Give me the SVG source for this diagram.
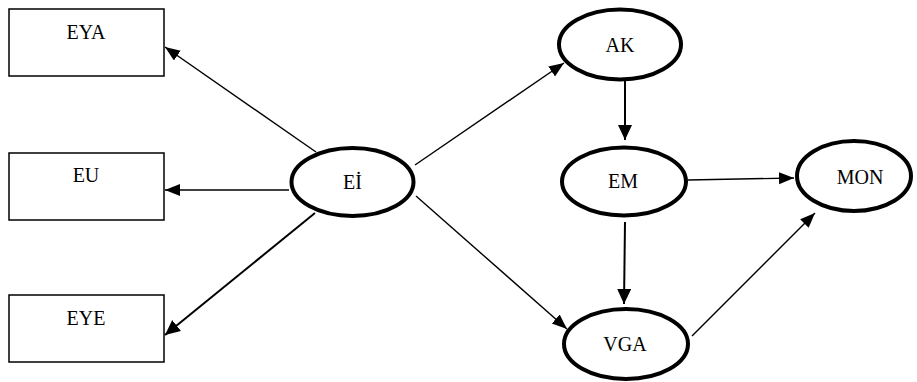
<svg xmlns="http://www.w3.org/2000/svg" width="917" height="382" viewBox="0 0 917 382">
<style>
.box{fill:#fff;stroke:#000;stroke-width:1.5}
.ell{fill:#fff;stroke:#000;stroke-width:4}
.lbl{font-family:"Liberation Serif","Times New Roman",serif;font-size:20px;fill:#000;text-anchor:middle}
.edge{stroke:#000;stroke-width:1.4;fill:none;marker-end:url(#ah)}
.edge2{stroke:#000;stroke-width:2;fill:none;marker-end:url(#ah2)}
</style>
<defs>
<marker id="ah" markerUnits="userSpaceOnUse" markerWidth="16" markerHeight="13" refX="15" refY="6" orient="auto">
<path d="M0,0 L15,6 L0,12 z" fill="#000"/>
</marker>
<marker id="ah2" markerUnits="userSpaceOnUse" markerWidth="16" markerHeight="15" refX="15" refY="7" orient="auto">
<path d="M0,0 L15,7 L0,14 z" fill="#000"/>
</marker>
</defs>
<g id="connectors">
<line class="edge" x1="316" y1="152" x2="165" y2="47"/>
<line class="edge" x1="289" y1="190" x2="165" y2="190"/>
<line class="edge2" x1="315" y1="213" x2="165" y2="335"/>
<line class="edge" x1="415" y1="165" x2="564" y2="63"/>
<line class="edge" x1="416" y1="196" x2="567" y2="329"/>
<line class="edge2" x1="625" y1="77" x2="625" y2="140"/>
<line class="edge" x1="688" y1="180" x2="794" y2="178"/>
<line class="edge2" x1="625" y1="222" x2="624" y2="304"/>
<line class="edge" x1="692" y1="336" x2="815" y2="213"/>
</g>
<g id="EYA"><rect class="box" x="9" y="9" width="155" height="67"/><text class="lbl" x="86" y="39">EYA</text></g>
<g id="EU"><rect class="box" x="9" y="153" width="155" height="67"/><text class="lbl" x="86" y="182">EU</text></g>
<g id="EYE"><rect class="box" x="9" y="295" width="155" height="67"/><text class="lbl" x="86" y="325">EYE</text></g>
<g id="EI"><ellipse class="ell" cx="352.5" cy="182" rx="61" ry="34"/><text class="lbl" x="352.5" y="189">Eİ</text></g>
<g id="AK"><ellipse class="ell" cx="620" cy="44.5" rx="61" ry="35"/><text class="lbl" x="620" y="52">AK</text></g>
<g id="EM"><ellipse class="ell" cx="624" cy="181.5" rx="62" ry="34"/><text class="lbl" x="623" y="188">EM</text></g>
<g id="MON"><ellipse class="ell" cx="854" cy="176" rx="57" ry="35"/><text class="lbl" x="860" y="184">MON</text></g>
<g id="VGA"><ellipse class="ell" cx="626" cy="344" rx="62" ry="35"/><text class="lbl" x="625" y="351">VGA</text></g>
</svg>
